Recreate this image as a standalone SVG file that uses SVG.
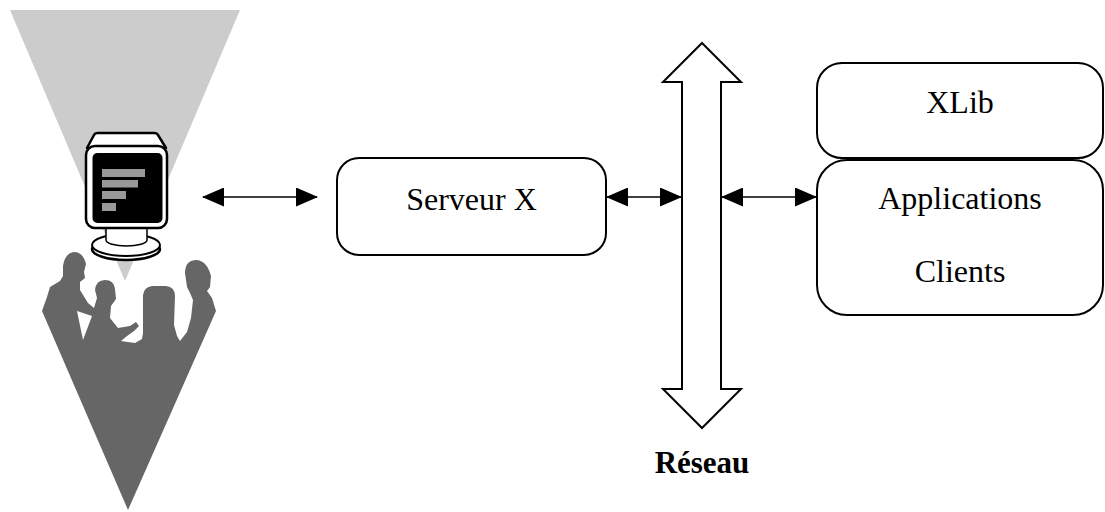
<svg xmlns="http://www.w3.org/2000/svg" width="1105" height="512" viewBox="0 0 1105 512">
  <defs>
    <style>
      .box { fill: #ffffff; stroke: #000000; stroke-width: 2; }
      .label { font-family: "Liberation Serif", "Times New Roman", serif; font-size: 32px; fill: #000000; text-anchor: middle; }
      .bold { font-weight: bold; font-size: 31px; }
      .link { stroke: #000000; stroke-width: 1.6; fill: none; }
      .bar { fill: #999999; }
    </style>
    <marker id="head" viewBox="0 0 22 19" markerWidth="22" markerHeight="19" refX="21" refY="9.5" orient="auto-start-reverse" markerUnits="userSpaceOnUse">
      <path d="M0,0 L22,9.5 L0,19 Z" fill="#000000"/>
    </marker>
  </defs>

  <rect width="1105" height="512" fill="#ffffff"/>

  <!-- Workstation: users, light cone and monitor -->
  <g id="workstation">
    <polygon points="10,10 240,10 125,281" fill="#cccccc"/>
    <path fill="#666666" d="M42,311 L47,297 L50,287 L60,281 L63,276 L63,266 Q65,253 74,252 Q83,252 86,264 L84,272 L85,278 L80,282 L80,290 L88,303 L94,308 L97,298 L95,290 Q96,280 105,280 Q114,280 115,289 L116,299 L111,306 L110,318 L118,328 L130,326 L136,322 L139,326 L134,331 L127,336 L121,341 L135,343 L142,339 L143,333 L143,295 Q144,287 152,286 L166,286 Q175,287 175,296 L174,325 L177,336 L180,341 L187,332 L191,318 L193,300 L190,293 L187,287 L185,273 Q185,260 197,260 Q207,261 211,276 L210,287 L207,291 L212,298 L216,311 L128,510 Z"/>
    <polygon points="77,311 92,316 83,340" fill="#ffffff"/>
    <!-- monitor stand -->
    <ellipse cx="126" cy="249" rx="34" ry="11" fill="#ffffff" stroke="#000000" stroke-width="2.5"/>
    <ellipse cx="126" cy="245" rx="34" ry="11" fill="#ffffff" stroke="#000000" stroke-width="2"/>
    <path d="M106,224 L106,240 A20.5,6 0 0 0 147,240 L147,224 Z" fill="#ffffff" stroke="#000000" stroke-width="1.5"/>
    <!-- monitor case -->
    <path d="M87,148 L94,135 Q95,133 98,133 L154,133 Q157,133 158,135 L166,148 Z" fill="#ffffff" stroke="#000000" stroke-width="2.5" stroke-linejoin="round"/>
    <rect x="86" y="146" width="81" height="82" rx="9" fill="#ffffff" stroke="#000000" stroke-width="2.5"/>
    <rect x="92.5" y="153" width="70" height="70" rx="5" fill="#000000"/>
    <rect class="bar" x="102" y="169" width="43" height="8"/>
    <rect class="bar" x="102" y="180" width="36" height="7.5"/>
    <rect class="bar" x="102" y="191" width="24" height="8"/>
    <rect class="bar" x="102" y="203" width="14" height="8"/>
  </g>

  <g id="serveur">
    <rect class="box" x="337" y="158" width="269" height="97" rx="22"/>
    <text class="label" x="471.5" y="210">Serveur X</text>
  </g>

  <g id="reseau">
    <polygon points="702,43 741,82 721,82 721,389 741,389 702,428 663,389 682,389 682,82 663,82" fill="#ffffff" stroke="#000000" stroke-width="2"/>
    <text class="label bold" x="702" y="473">Réseau</text>
  </g>

  <g id="xlib">
    <rect class="box" x="817" y="63" width="286" height="95" rx="25"/>
    <text class="label" x="960" y="113">XLib</text>
  </g>

  <g id="clients">
    <rect class="box" x="817" y="160" width="286" height="155" rx="30"/>
    <text class="label" x="960" y="209">Applications</text>
    <text class="label" x="960" y="282">Clients</text>
  </g>

  <g id="connectors">
    <line class="link" x1="203" y1="197" x2="317" y2="197" marker-start="url(#head)" marker-end="url(#head)"/>
    <line class="link" x1="607" y1="197" x2="681" y2="197" marker-start="url(#head)" marker-end="url(#head)"/>
    <line class="link" x1="722" y1="197" x2="816" y2="197" marker-start="url(#head)" marker-end="url(#head)"/>
  </g>
</svg>
